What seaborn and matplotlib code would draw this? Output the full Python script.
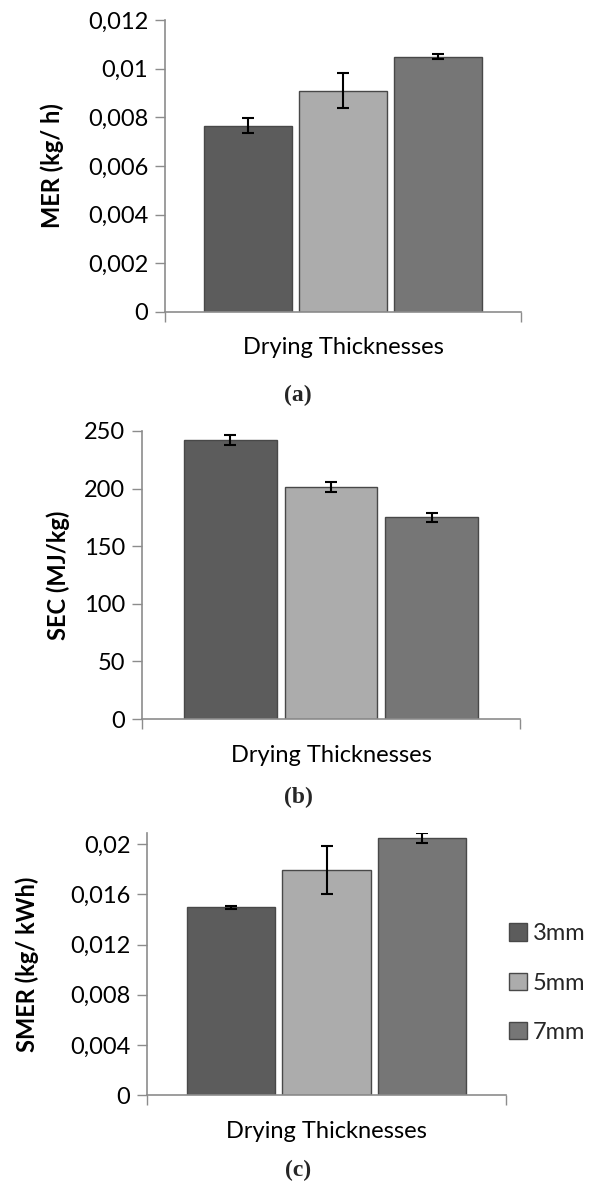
import numpy as np
import pandas as pd
import matplotlib
matplotlib.use("Agg")
import matplotlib.pyplot as plt
from matplotlib.ticker import FuncFormatter
import seaborn as sns

# ---------------- data ----------------
groups = ["Drying Thicknesses"]
thicknesses = ["3mm", "5mm", "7mm"]
mer = [0.00765, 0.00909, 0.01050]
mer_err = [0.00031, 0.00072, 0.00010]
sec = [242.5, 201.5, 175.0]
sec_err = [4.3, 4.6, 3.8]
smer = [0.01496, 0.01792, 0.02050]
smer_err = [0.00010, 0.00192, 0.00037]

mer_ticks = [0, 0.002, 0.004, 0.006, 0.008, 0.01, 0.012]
sec_ticks = [0, 50, 100, 150, 200, 250]
smer_ticks = [0, 0.004, 0.008, 0.012, 0.016, 0.02]

palette = ["#5c5c5c", "#acacac", "#767676"]

sns.set_theme(style="white")
plt.rcParams["font.family"] = ["Lato", "DejaVu Sans"]

W, H = 595, 1182
fig = plt.figure(figsize=(W / 100, H / 100), dpi=100)

def px_axes(left, right, top, bottom):
    return fig.add_axes([left / W, 1 - bottom / H, (right - left) / W, (bottom - top) / H])

def fmt(v, pos):
    return ("{:g}".format(round(v, 6))).replace(".", ",")

panels = [
    dict(vals=mer, err=mer_err, ticks=mer_ticks, ylim=0.012, label="MER (kg/ h)",
         box=(165, 521, 20, 312), ylx=52, cap="(a)", capy=395, legend=False),
    dict(vals=sec, err=sec_err, ticks=sec_ticks, ylim=250, label="SEC (MJ/kg)",
         box=(142, 520, 431, 719), ylx=58, cap="(b)", capy=797, legend=False),
    dict(vals=smer, err=smer_err, ticks=smer_ticks, ylim=0.0209, label="SMER (kg/ kWh)",
         box=(147, 506, 833, 1095), ylx=27, cap="(c)", capy=1170, legend=True),
]

grey = "#8c8c8c"
FS = 17
for p in panels:
    l, r, t, b = p["box"]
    ax = px_axes(l, r, t, b)
    df = pd.DataFrame({"group": groups * len(thicknesses),
                       "thickness": thicknesses,
                       "value": p["vals"]})
    sns.barplot(data=df, x="group", y="value", hue="thickness", hue_order=thicknesses,
                palette=palette, errorbar=None, gap=0.08, width=0.8,
                edgecolor="#484848", linewidth=1.0, ax=ax, legend=p["legend"])
    # error bars at the bar centres produced by seaborn
    for cont, e, v in zip(ax.containers, p["err"], p["vals"]):
        bar = cont.patches[0]
        xc = bar.get_x() + bar.get_width() / 2
        ax.errorbar([xc], [v], yerr=[e], fmt="none", ecolor="black",
                    elinewidth=1.5, capsize=4.5, capthick=1.5, zorder=5)
    ax.set_xlim(-0.5, 0.5)
    ax.set_ylim(0, p["ylim"])
    ax.set_yticks(p["ticks"])
    ax.yaxis.set_major_formatter(FuncFormatter(fmt))
    ax.set_xticks([-0.5, 0.5])
    ax.set_xticklabels(["", ""])
    ax.tick_params(axis="both", which="both", length=7, width=1, color=grey,
                   direction="out", labelsize=FS, pad=5, bottom=True, left=True,
                   labelcolor="black")
    for s in ["top", "right"]:
        ax.spines[s].set_visible(False)
    for s in ["left", "bottom"]:
        ax.spines[s].set_color(grey)
        ax.spines[s].set_linewidth(1.2)
    ax.set_ylabel(p["label"], fontsize=FS, fontweight="bold", color="black")
    ax.yaxis.set_label_coords((p["ylx"] - l) / (r - l), 0.5)
    ax.yaxis.label.set_va("center")
    ax.set_xlabel("Drying Thicknesses", fontsize=FS, color="black")
    ax.xaxis.set_label_coords(0.5, -36 / (b - t))
    ax.xaxis.label.set_va("center")
    fig.text(298 / W, 1 - p["capy"] / H, p["cap"], ha="center", va="center",
             fontsize=17, fontweight="bold", family=["Liberation Serif", "DejaVu Serif"])
    if p["legend"]:
        leg = ax.legend(loc="center left", bbox_to_anchor=(509 / W, 1 - 983 / H),
                        bbox_transform=fig.transFigure, frameon=False, fontsize=FS,
                        handlelength=0.75, handleheight=0.75, handletextpad=0.25,
                        labelspacing=1.2, borderaxespad=0, borderpad=0, title=None)
    else:
        if ax.get_legend() is not None:
            ax.get_legend().remove()

fig.savefig("out.png", dpi=100)
